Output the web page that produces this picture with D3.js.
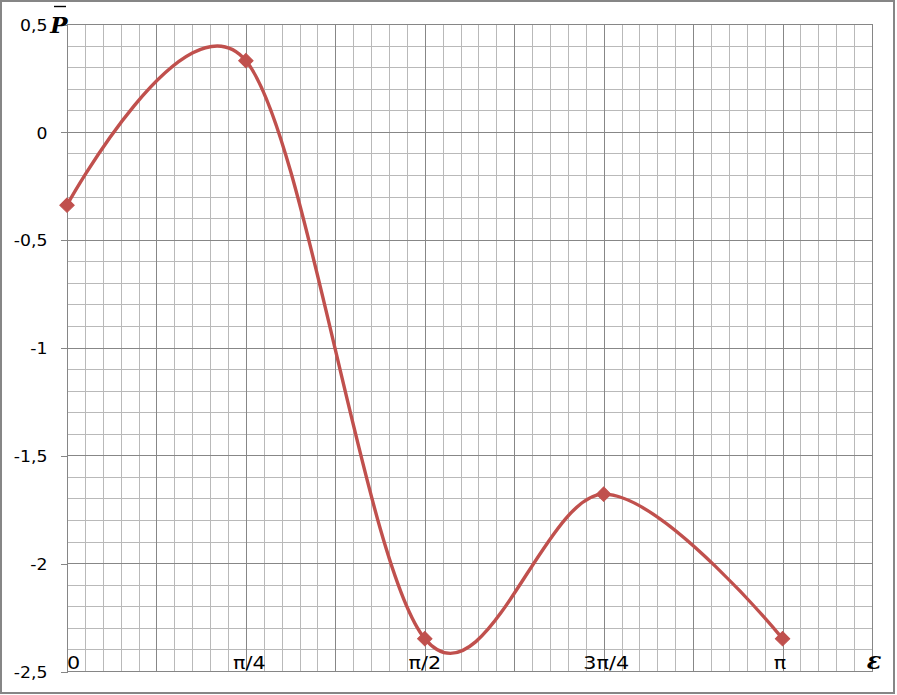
<!DOCTYPE html>
<html>
<head>
<meta charset="utf-8">
<script src="https://cdn.jsdelivr.net/npm/d3@7"></script>
<style>
  html, body { margin: 0; padding: 0; background: #fff; }
  svg { display: block; }
</style>
</head>
<body>
<svg id="chart" width="897" height="695"></svg>
<script>
// ---- data ----
const xValues = [0, Math.PI / 4, Math.PI / 2, 3 * Math.PI / 4, Math.PI];
const yValues = [-0.34, 0.33, -2.35, -1.68, -2.35];
const xLabels = ["0", "π/4", "π/2", "3π/4", "π"];
const yTicks = [-2.5, -2, -1.5, -1, -0.5, 0, 0.5];
const xDomain = [0, 9 * Math.PI / 8];
const yDomain = [-2.5, 0.5];
const yAxisTitle = "P";
const xAxisTitle = "ε";

// ---- layout ----
const W = 897, H = 695;
const L = 67, R = 872, T = 24, B = 671;

const svg = d3.select("#chart");

// outer frame
svg.append("rect")
  .attr("x", 1).attr("y", 1).attr("width", 893).attr("height", 692)
  .attr("fill", "#fff").attr("stroke", "#868686").attr("stroke-width", 2);

const x = d3.scaleLinear().domain(xDomain).range([L, R]);
const y = d3.scaleLinear().domain(yDomain).range([B, T]);

const grid = svg.append("g").attr("shape-rendering", "crispEdges");

// minor grid
const minorX = d3.range(0, 46).map(i => i * Math.PI / 40);
const minorY = d3.range(0, 31).map(i => -2.5 + i * 0.1);
grid.selectAll(".mx").data(minorX).join("line")
  .attr("x1", d => Math.round(x(d)) + 0.5).attr("x2", d => Math.round(x(d)) + 0.5)
  .attr("y1", T).attr("y2", B)
  .attr("stroke", "#b9b9b9").attr("stroke-width", 1);
grid.selectAll(".my").data(minorY).join("line")
  .attr("y1", d => Math.round(y(d)) + 0.5).attr("y2", d => Math.round(y(d)) + 0.5)
  .attr("x1", L).attr("x2", R)
  .attr("stroke", "#b9b9b9").attr("stroke-width", 1);

// major grid
const majorX = d3.range(0, 10).map(i => i * Math.PI / 8);
grid.selectAll(".Mx").data(majorX).join("line")
  .attr("x1", d => Math.round(x(d)) + 0.5).attr("x2", d => Math.round(x(d)) + 0.5)
  .attr("y1", T).attr("y2", B)
  .attr("stroke", "#878787").attr("stroke-width", 1);
grid.selectAll(".My").data(yTicks).join("line")
  .attr("y1", d => Math.round(y(d)) + 0.5).attr("y2", d => Math.round(y(d)) + 0.5)
  .attr("x1", L).attr("x2", R)
  .attr("stroke", "#878787").attr("stroke-width", 1);

// plot border
grid.append("rect")
  .attr("x", L + 0.5).attr("y", T + 0.5)
  .attr("width", Math.round(R - L)).attr("height", Math.round(B - T))
  .attr("fill", "none").attr("stroke", "#868686").attr("stroke-width", 1);

// y axis
const fmt = d => String(d).replace(".", ",");
const yAxis = svg.append("g")
  .attr("transform", `translate(${L + 0.5},0.5)`)
  .call(d3.axisLeft(y).tickValues(yTicks).tickFormat(fmt).tickSize(7).tickPadding(13));
yAxis.select(".domain").remove();
yAxis.selectAll(".tick line").attr("stroke", "#868686").attr("shape-rendering", "crispEdges");
yAxis.selectAll(".tick text")
  .attr("font-family", "'DejaVu Sans', sans-serif")
  .attr("font-size", 15)
  .attr("fill", "#000")
  .attr("dy", "0.38em")
  .attr("transform", "translate(-20,0) scale(1.15,1) translate(20,0)");

// x labels
svg.append("g").selectAll("text").data(xValues).join("text")
  .attr("transform", (d, i) => {
    const cx = x(d) + [6.5, 3.5, 0, 2.5, -2.5][i];
    return `translate(${cx},669) scale(1.15,1)`;
  })
  .attr("text-anchor", "middle")
  .attr("font-family", "'DejaVu Sans', sans-serif")
  .attr("font-size", 18)
  .attr("fill", "#000")
  .text((d, i) => xLabels[i]);

// axis titles
const yt = svg.append("g");
yt.append("text")
  .attr("x", 59).attr("y", 33)
  .attr("text-anchor", "middle")
  .attr("font-family", "'DejaVu Serif', serif")
  .attr("font-weight", "bold").attr("font-style", "italic")
  .attr("font-size", 23)
  .attr("fill", "#000")
  .text(yAxisTitle);
yt.append("line")
  .attr("x1", 54).attr("x2", 66).attr("y1", 6.5).attr("y2", 6.5)
  .attr("stroke", "#000").attr("stroke-width", 1.4);

svg.append("text")
  .attr("x", 874).attr("y", 669)
  .attr("text-anchor", "middle")
  .attr("font-family", "'DejaVu Serif', serif")
  .attr("font-weight", "bold").attr("font-style", "italic")
  .attr("font-size", 24)
  .attr("fill", "#000")
  .text(xAxisTitle);

// series
const pts = xValues.map((d, i) => [d, yValues[i]]);
const line = d3.line()
  .x(d => x(d[0])).y(d => y(d[1]))
  .curve(d3.curveCardinal.tension(0));
svg.append("path")
  .attr("d", line(pts))
  .attr("fill", "none")
  .attr("stroke", "#C0504D")
  .attr("stroke-width", 3.4)
  .attr("stroke-linejoin", "round");

const diamond = d3.symbol().type(d3.symbolSquare).size(104);
svg.append("g").selectAll("path").data(pts).join("path")
  .attr("d", diamond)
  .attr("transform", d => `translate(${x(d[0])},${y(d[1])}) rotate(45)`)
  .attr("fill", "#C0504D")
  .attr("stroke", "#C0504D")
  .attr("stroke-width", 1);
</script>
</body>
</html>
